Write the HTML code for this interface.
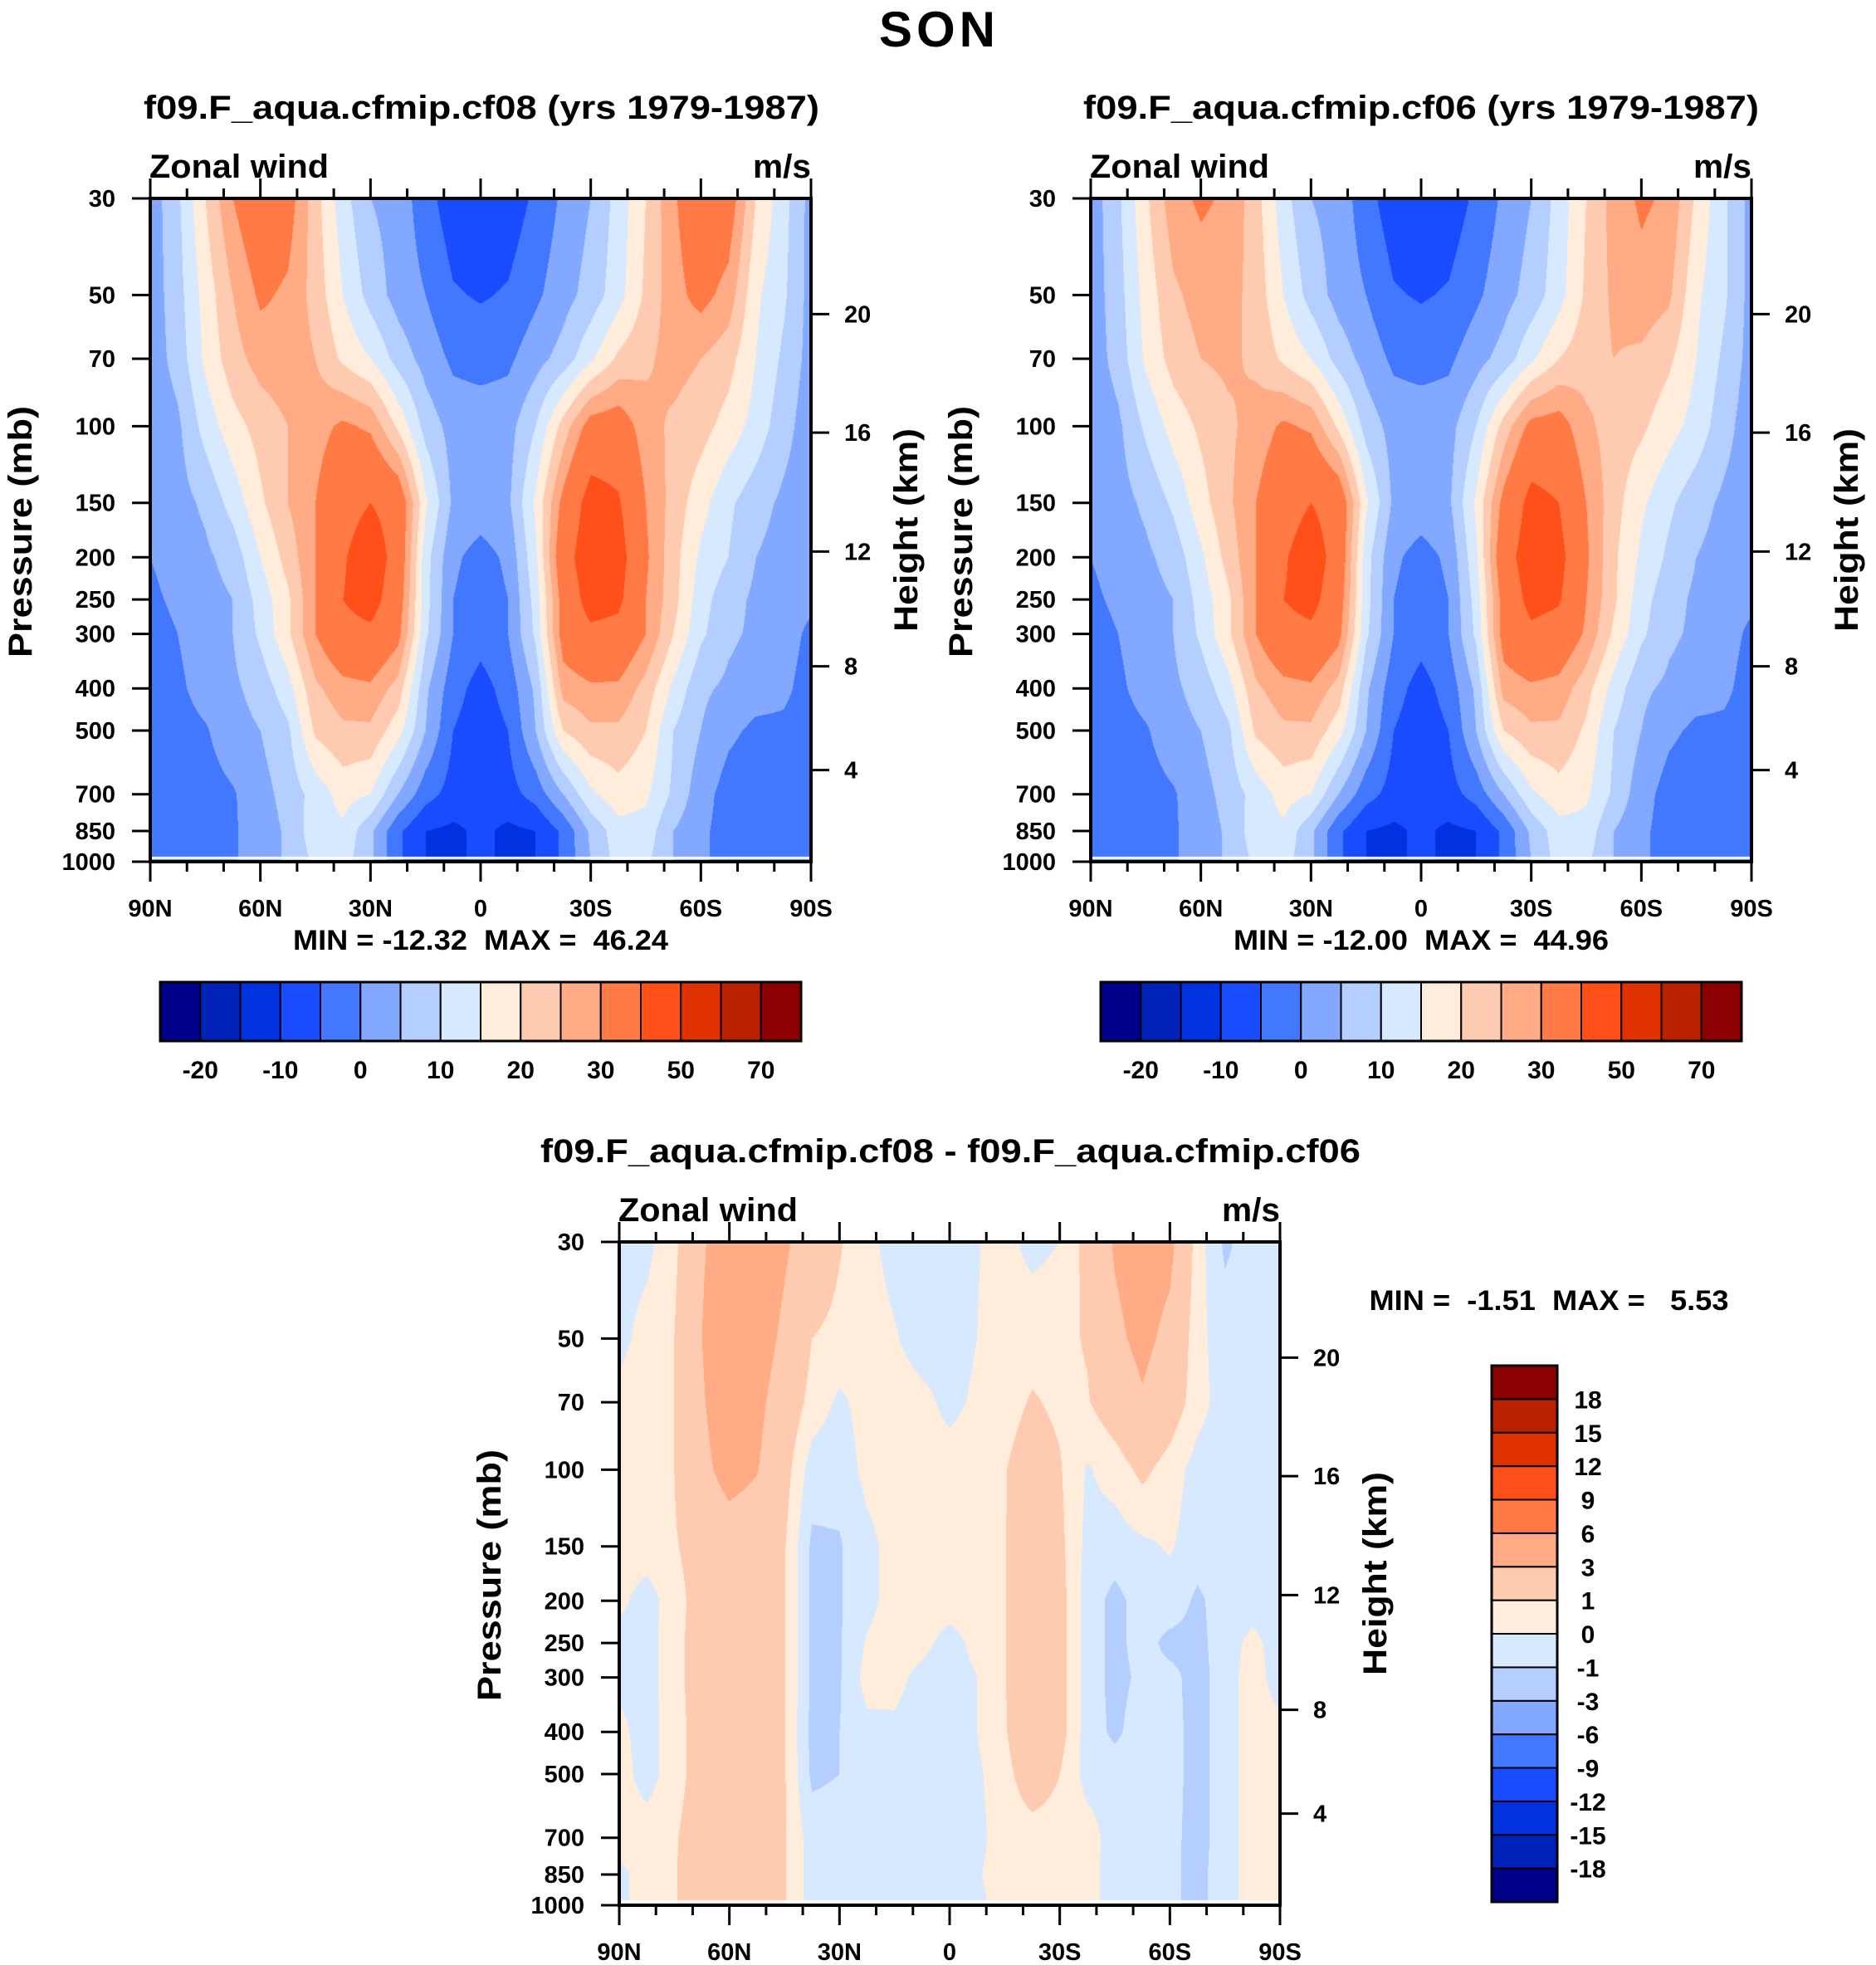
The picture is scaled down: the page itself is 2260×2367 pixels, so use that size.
<!DOCTYPE html>
<html><head><meta charset="utf-8">
<style>
html,body{margin:0;padding:0;background:#fff;}
#wrap{position:relative;width:2260px;height:2367px;overflow:hidden;background:#fff;}
canvas{position:absolute;}
svg{position:absolute;left:0;top:0;}
text{font-family:"Liberation Sans",Arial,sans-serif;font-weight:bold;fill:#000;white-space:pre;}
</style></head>
<body>
<div id="wrap">
<canvas id="c1" width="796" height="799" style="left:181px;top:239px"></canvas>
<canvas id="c2" width="796" height="799" style="left:1314px;top:239px"></canvas>
<canvas id="c3" width="796" height="799" style="left:746px;top:1496px"></canvas>
<svg id="ov" width="2260" height="2367">
<text x="1129" y="56" font-size="60" text-anchor="middle" textLength="140">SON</text>
</svg>
</div>
<script>
// ---- data ----
const pressureLevels = [30,50,70,100,150,200,250,300,400,500,700,850,1000];
const latLabels = ["90N","60N","30N","0","30S","60S","90S"];
const heightTicksKm = [4,8,12,16,20];
const heightTickP = [616,356,194,103.5,55.3];
const windLevels = [-20,-15,-10,-5,0,5,10,15,20,25,30,40,50,60,70];
const windLabels = ["-20","-10","0","10","20","30","50","70"];
const diffLevels = [-18,-15,-12,-9,-6,-3,-1,0,1,3,6,9,12,15,18];
const palette = ["#00008a","#0022b8","#0032e0","#1a4cff","#4278ff","#82a8ff","#b4ceff","#d6e9ff","#ffecda","#ffcbb0","#ffab85","#ff7a45","#ff5019","#e03200","#b82200","#8b0000"];
// rows: pressure levels; columns: 90N..90S every 7.5 deg
const windCf08 = [
[2,9,20,30,36,33,22,12,5,3,-3,-8,-9,-8,-4,1,5,12,20,29,36,34,20,12,3],
[2,8,17,25,31,29,23,15,8,3,0,-4.5,-5.5,-4.5,-1,3,7,13,21,28,32,28,16,11,3],
[2,7,16,23,27,28,25,19,15,8,3,-1,-2,-1,3,7,14,21,24,27,25,22,15,9,3],
[1,4,12,18,22,25,28,31,29,19,8,3,3,3,10,22,33,34,27,24,22,18,13,7,2],
[1,3,6,12,19,25,30,36,40,36,16,4,3,4,16,32,44,41,30,23,17,11,7,4,2],
[0,2,4,7,15,22,30,39,46,36,12,1,-2,1,14,36,46,44,31,22,14,10,5,3,2],
[-1,1,3,5,12,19,30,40,44,34,12,0,-3,0,12,33,44,42,30,22,12,7,4,2,1],
[-2,0,3,5,11,19,30,37,38,32,11,0,-3,0,11,33,38,37,30,20,11,6,4,2,-1],
[-3,-1,2,4,7,13,24,28,29,23,6,-3,-7,-3,6,27,29,29,23,14,6,4,2,1,-2],
[-3,-2,-0.5,3,5,9,21,24,24,17,5,-5,-8,-5,5,20,24,24,20,10,5,1,-1,-1,-2],
[-3,-3,-2,-0.5,3,7,12,17,15,5,-3,-7,-8,-7,-3,5,14,18,16,9,2,-2,-3,-3,-3],
[-3,-3,-2,-0.5,2,6,13,14,6,-4,-10,-11,-9,-11,-10,-4,6,13,13,5,1,-2,-3,-3,-3],
[-3,-3,-2,-0.5,2,6,11,12,6,-4,-10,-11,-9,-11,-10,-4,5,12,11,5,1,-2,-3,-3,-3]];
const windCf06 = [
[2,9,19,28,31,29,22,12,5,3,-3,-8,-9,-8,-4,1,5,12,20,27,31,29,19,11,3],
[2,8,17,24,27,27,23,15,8,3,0,-4.5,-5.5,-4.5,-1,3,7,13,21,26,28,26,16,11,3],
[2,7,16,22,25,26,24,19,15,8,3,-1,-2,-1,3,7,14,20,23,25,24,21,15,9,3],
[1,4,11,17,21,24,27,31,29,19,8,3,3,3,10,22,32,33,26,23,21,17,13,7,2],
[1,3,6,11,18,24,30,36,40,36,16,4,3,4,16,32,43,40,30,22,16,11,7,4,2],
[0,2,4,7,14,22,30,39,45,36,12,1,-2,1,14,36,45,43,31,21,14,9,5,3,2],
[-1,1,3,5,12,19,30,40,43,34,12,0,-3,0,12,33,43,41,30,21,12,7,4,2,1],
[-2,0,3,5,11,19,30,37,38,32,11,0,-3,0,11,33,38,36,29,19,11,6,4,2,-1],
[-3,-1,2,4,7,13,24,28,29,23,6,-3,-7,-3,6,27,29,28,22,13,6,4,2,1,-2],
[-3,-2,-0.5,3,5,9,21,24,24,17,5,-5,-8,-5,5,20,24,24,19,10,5,1,-1,-1,-2],
[-3,-3,-2,-0.5,3,7,12,17,15,5,-3,-7,-8,-7,-3,5,14,18,16,9,2,-2,-3,-3,-3],
[-3,-3,-2,-0.5,2,6,13,14,6,-4,-10,-11,-9,-11,-10,-4,6,13,13,5,1,-2,-3,-3,-3],
[-3,-3,-2,-0.5,2,6,11,12,6,-4,-10,-11,-9,-11,-10,-4,5,12,11,5,1,-2,-3,-3,-3]];
const windDiff = [
[-0.5,-0.3,0.7,2.8,4,4.5,3.3,2,1.1,0.3,-0.4,-0.5,-0.4,-0.05,0.3,-0.3,0,1.4,3.2,4,3.5,0.5,-1.2,-0.5,-0.5],
[-0.3,0.4,1,3,4.5,4,2.6,1,0.7,0.5,0.1,-0.5,-0.5,0,0.5,0.6,0.7,1.1,2.6,3.5,2.5,0.3,-0.5,-0.5,-0.5],
[0.3,0.6,1,2.8,4.3,3.5,2,0.6,-0.2,0.4,0.5,0.3,-0.3,0.2,0.6,1.1,0.8,0.9,1.8,2.8,1.8,0.4,-0.5,-0.5,-0.5],
[0.5,0.6,1,2.5,3.7,3.1,1.5,-0.5,-0.6,0.3,0.5,0.5,0.5,0.6,0.95,1.6,1.1,-0.1,0.4,1.3,0.5,-0.4,-0.5,-0.5,-0.5],
[0.5,0.6,0.9,1.5,2,1.8,1.1,-1.2,-1.1,-0.3,0.4,0.5,0.5,0.6,0.95,1.8,1.3,-0.3,-0.5,-0.2,0.1,-0.5,-0.5,-0.5,-0.5],
[0.3,-0.5,0.6,1.5,2,1.8,1.1,-1.2,-1.1,-0.3,0.4,0.5,0.5,0.6,0.95,2,1.5,-0.5,-1.3,-0.6,-0.4,-1.2,-0.5,-0.5,-0.5],
[-0.5,-0.5,0.7,1.5,2,1.8,1.1,-1.2,-1.1,0.1,0.5,0.3,-0.4,0.3,0.95,2,1.5,-0.5,-1.3,-0.6,-1.3,-1.3,-0.5,0.3,-0.5],
[-0.3,-0.5,0.7,1.5,2,1.8,1.1,-1.2,-1.1,0.4,0.3,-0.3,-0.5,0,0.95,2,1.5,-0.5,-1.3,-0.8,-0.7,-1.4,-0.5,0.5,-0.5],
[0.3,-0.5,0.6,1.5,2,1.8,1.1,-1.3,-1,-0.3,-0.2,-0.5,-0.5,0,0.9,2,1.5,-0.5,-1.2,-0.5,-0.6,-1.4,-0.5,0.5,0.3],
[0.5,-0.5,0.6,1.5,2,1.8,1.1,-1.2,-1,-0.5,-0.5,-0.5,-0.5,-0.2,0.7,1.6,1,-0.4,-0.5,-0.5,-0.6,-1.4,-0.5,0.5,0.3],
[0.5,0.6,0.9,1.6,2,1.8,1.1,-0.5,-0.5,-0.5,-0.5,-0.5,-0.5,-0.3,0.5,0.6,0.6,0.5,-0.5,-0.5,-0.7,-1.4,-0.5,0.5,0.5],
[-0.3,0.5,0.9,1.8,2,1.8,1.1,-0.5,-0.5,-0.5,-0.5,-0.5,-0.5,-0.1,0.5,0.6,0.6,0.4,-0.5,-0.8,-0.8,-1.3,-0.5,0.5,0.5],
[-0.3,0.5,0.9,1.8,2,1.8,1.1,-0.5,-0.5,-0.5,-0.5,-0.5,-0.5,-0.3,0.5,0.6,0.6,0.4,-0.5,-0.8,-0.8,-1.3,-0.5,0.5,0.5]];

// ---- helpers ----
const NS = "http://www.w3.org/2000/svg";
const ov = document.getElementById('ov');
const PW = 796, PH = 799;
const LN = Math.log(1000/30);
function yOfP(y0,p){ return y0 + PH*Math.log(p/30)/LN; }
function xOfLat(x0,deg){ return x0 + PW*deg/180; }
function el(tag, attrs){ const e=document.createElementNS(NS,tag); for(const k in attrs) e.setAttribute(k,attrs[k]); ov.appendChild(e); return e; }
function hex(c){ return [parseInt(c.slice(1,3),16),parseInt(c.slice(3,5),16),parseInt(c.slice(5,7),16)]; }
const rgb = palette.map(hex);
const logP = pressureLevels.map(p=>Math.log(p));

function drawField(id, grid, levels){
  const cv=document.getElementById(id), ctx=cv.getContext('2d');
  const img=ctx.createImageData(PW,PH), d=img.data;
  const nc=grid[0].length;
  for(let py=0;py<PH;py++){
    const lp=Math.log(30)+LN*(py+0.5)/PH;
    let r=0; while(r<pressureLevels.length-2 && lp>logP[r+1]) r++;
    let ty=(lp-logP[r])/(logP[r+1]-logP[r]); ty=Math.max(0,Math.min(1,ty));
    const A=grid[r], B=grid[r+1];
    for(let px=0;px<PW;px++){
      const fx=(px+0.5)/PW*(nc-1);
      let c=Math.min(nc-2,Math.floor(fx)); const tx=fx-c;
      const v=(A[c]*(1-tx)+A[c+1]*tx)*(1-ty)+(B[c]*(1-tx)+B[c+1]*tx)*ty;
      let k=0; while(k<levels.length && v>=levels[k]) k++;
      const col=rgb[k], i=(py*PW+px)*4;
      d[i]=col[0]; d[i+1]=col[1]; d[i+2]=col[2]; d[i+3]=255;
    }
  }
  ctx.putImageData(img,0,0);
  ctx.fillStyle="#fff"; ctx.fillRect(0,PH-6,PW,3);
}

function axes(x0,y0,tag,title,titleX,titleLen,minmax,mmX,mmY,mmLen){
  let t=el('text',{x:titleX,y:y0-96,'font-size':40,'text-anchor':'middle',textLength:titleLen,lengthAdjust:'spacingAndGlyphs'});
  t.textContent=title;
  
  
  t=el('text',{x:x0-1,y:y0-25,'font-size':40,textLength:216,lengthAdjust:'spacingAndGlyphs'});
  t.textContent="Zonal wind";
  
  
  t=el('text',{x:x0+PW,y:y0-25,'font-size':40,'text-anchor':'end',textLength:70,lengthAdjust:'spacingAndGlyphs'});
  t.textContent="m/s";
  
  
  const f=el('rect',{x:x0,y:y0,width:PW,height:PH,fill:'none',stroke:'#000','stroke-width':4});
  
  
  pressureLevels.forEach(p=>{
    const y=yOfP(y0,p);
    const tk=el('line',{x1:x0-22,x2:x0,y1:y,y2:y,stroke:'#000','stroke-width':3});
    
    
    const lb=el('text',{x:x0-42,y:y+10,'font-size':29,'text-anchor':'end'});
    lb.textContent=String(p);
    
    
  });
  for(let dg=0;dg<=180;dg+=10){
    const x=xOfLat(x0,dg), major=dg%30===0, L=major?24:12;
    const a=el('line',{x1:x,x2:x,y1:y0+PH,y2:y0+PH+L,stroke:'#000','stroke-width':3});
    
    
    const b=el('line',{x1:x,x2:x,y1:y0,y2:y0-L,stroke:'#000','stroke-width':3});
    
    
  }
  latLabels.forEach((s,i)=>{
    const lb=el('text',{x:xOfLat(x0,i*30),y:y0+PH+66,'font-size':29,'text-anchor':'middle'});
    lb.textContent=s;
    
    
  });
  heightTicksKm.forEach((h,i)=>{
    const y=yOfP(y0,heightTickP[i]);
    const tk=el('line',{x1:x0+PW,x2:x0+PW+22,y1:y,y2:y,stroke:'#000','stroke-width':3});
    
    
    const lb=el('text',{x:x0+PW+40,y:y+10,'font-size':29});
    lb.textContent=String(h);
    
    
  });
  const cy=y0+PH*0.5;
  t=el('text',{x:0,y:0,'font-size':40,'text-anchor':'middle',textLength:303,lengthAdjust:'spacingAndGlyphs',transform:`translate(${x0-143},${cy+2}) rotate(-90)`});
  t.textContent="Pressure (mb)";
  
  
  t=el('text',{x:0,y:0,'font-size':40,'text-anchor':'middle',textLength:245,lengthAdjust:'spacingAndGlyphs',transform:`translate(${x0+PW+128},${cy}) rotate(-90)`});
  t.textContent="Height (km)";
  
  
  if(minmax){
    t=el('text',{x:mmX,y:mmY,'font-size':34,'text-anchor':'middle',textLength:mmLen,lengthAdjust:'spacingAndGlyphs'});
    t.textContent=minmax;
    
    
  }
}

function hbar(x0,y0,w,h,tag){
  const bw=w/16;
  palette.forEach((c,i)=>{
    const r=el('rect',{x:x0+i*bw,y:y0,width:bw,height:h,fill:c,stroke:'#000','stroke-width':2});
    
    
  });
  const o=el('rect',{x:x0,y:y0,width:w,height:h,fill:'none',stroke:'#000','stroke-width':3});
  
  
  windLabels.forEach((s,i)=>{
    const lb=el('text',{x:x0+(2*i+1)*bw,y:y0+h+45,'font-size':30,'text-anchor':'middle'});
    lb.textContent=s;
    
    
  });
}
function vbar(x0,y0,w,h){
  const bh=h/16;
  palette.forEach((c,i)=>{
    const r=el('rect',{x:x0,y:y0+(15-i)*bh,width:w,height:bh,fill:c,stroke:'#000','stroke-width':2});
    
    
  });
  const o=el('rect',{x:x0,y:y0,width:w,height:h,fill:'none',stroke:'#000','stroke-width':3});
  
  
  diffLevels.forEach((v,i)=>{
    const lb=el('text',{x:1913,y:y0+(15-i)*bh+11,'font-size':30,'text-anchor':'middle'});
    lb.textContent=String(v);
    
    
  });
}

drawField('c1',windCf08,windLevels);
drawField('c2',windCf06,windLevels);
drawField('c3',windDiff,diffLevels);
axes(181,239,'cf08','f09.F_aqua.cfmip.cf08 (yrs 1979-1987)',580,814,'MIN = -12.32  MAX =  46.24',579,1144,452);
axes(1314,239,'cf06','f09.F_aqua.cfmip.cf06 (yrs 1979-1987)',1712,814,'MIN = -12.00  MAX =  44.96',1712,1144,452);
axes(746,1496,'diff','f09.F_aqua.cfmip.cf08 - f09.F_aqua.cfmip.cf06',1145,988,'',0,0,1);
let mm=el('text',{x:1866,y:1578,'font-size':34,'text-anchor':'middle',textLength:433,lengthAdjust:'spacingAndGlyphs'});
mm.textContent='MIN =  -1.51  MAX =   5.53';


hbar(193,1183,772,71,'cf08');
hbar(1326,1183,772,71,'cf06');
vbar(1797,1645,79,646);
</script>
</body></html>
